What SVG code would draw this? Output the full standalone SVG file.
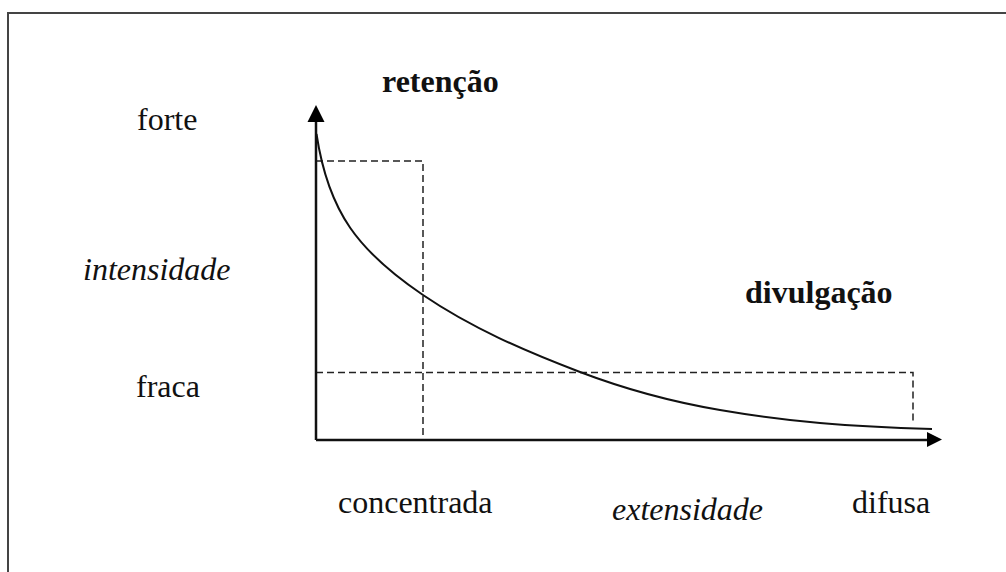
<svg xmlns="http://www.w3.org/2000/svg" width="1006" height="572" viewBox="0 0 1006 572">
<style>
.t{font-family:"Liberation Serif","Times New Roman",serif;font-size:32px;fill:#111}
.b{font-weight:bold}
.i{font-style:italic}
.axis{stroke:#111;stroke-width:2.5;fill:none}
.dash{stroke:#222;stroke-width:1.5;fill:none;stroke-dasharray:7 4}
.curve{stroke:#111;stroke-width:2;fill:none}
.head{fill:#000}
</style>
<rect width="1006" height="572" fill="#fff"/>
<g id="frame">
<path d="M8,572 V13 H1006" stroke="#444" stroke-width="2" fill="none"/>
</g>
<g id="connectors">
<path class="dash" d="M316,161 H423 V440"/>
<path class="dash" d="M316,372.5 H913 V423"/>
<path class="axis" d="M316,440 V118"/>
<path class="axis" d="M316,440 H930"/>
<path class="head" d="M316,105 L307.5,122 L324.5,122 Z"/>
<path class="head" d="M942,439.5 L927,432 L927,447 Z"/>
<path class="curve" d="M316.5,134 C328.4,212.9 358.8,251.4 423,295 C471.2,327.8 525.5,351.3 580,372 C625.2,389.2 672.3,401.9 720,410 C753.3,415.7 786.7,420.2 820,423 C857.3,426.2 894.7,427.9 932,429"/>
</g>
<g id="label-retencao"><text class="t b" x="382" y="92">retenção</text></g>
<g id="label-divulgacao"><text class="t b" x="745" y="303">divulgação</text></g>
<g id="label-forte"><text class="t" x="137" y="130">forte</text></g>
<g id="label-intensidade"><text class="t i" x="83" y="280">intensidade</text></g>
<g id="label-fraca"><text class="t" x="136" y="397">fraca</text></g>
<g id="label-concentrada"><text class="t" x="338" y="513">concentrada</text></g>
<g id="label-extensidade"><text class="t i" x="612" y="520">extensidade</text></g>
<g id="label-difusa"><text class="t" x="852" y="513">difusa</text></g>
</svg>
